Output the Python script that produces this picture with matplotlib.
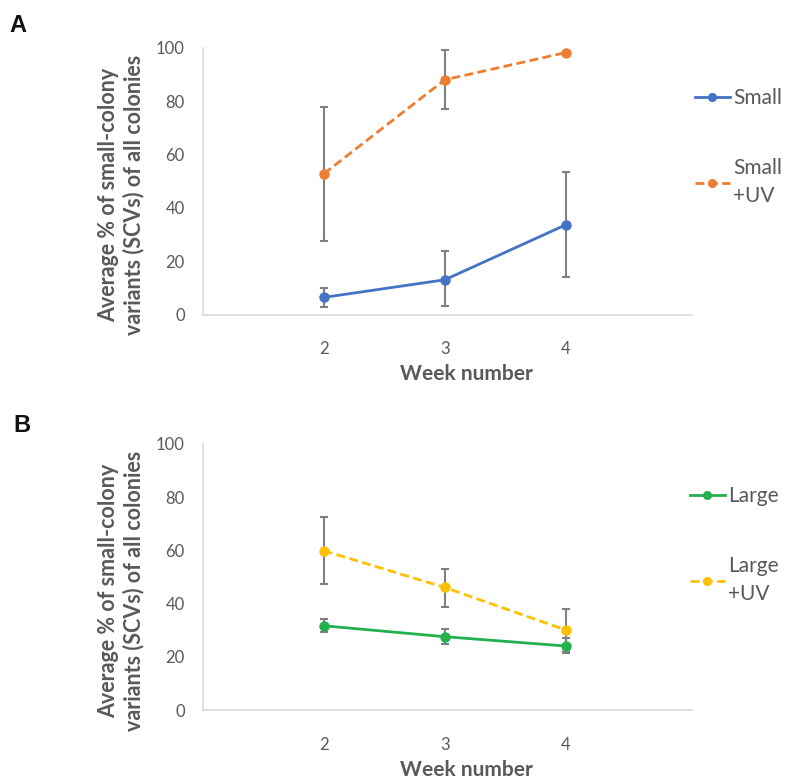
import matplotlib
matplotlib.use('Agg')
import matplotlib.pyplot as plt

#Data
weeks = [2, 3, 4]

small_mean = [6.5, 13.1, 33.7]
small_lo = [3.0, 3.1, 14.0]
small_hi = [10.2, 23.7, 53.4]

small_uv_mean = [52.8, 88.0, 98.2]
small_uv_lo = [27.8, 77.0, 98.2]
small_uv_hi = [78.0, 99.3, 98.2]

large_mean = [31.7, 27.6, 24.1]
large_lo = [29.4, 25.0, 21.5]
large_hi = [34.2, 30.5, 27.0]

large_uv_mean = [59.9, 46.1, 30.1]
large_uv_lo = [47.3, 38.8, 22.0]
large_uv_hi = [72.4, 52.9, 38.0]

y_ticks = [0, 20, 40, 60, 80, 100]
x_ticks = [2, 3, 4]

ylabel = "Average % of small-colony\nvariants (SCVs) of all colonies"
xlabel = "Week number"

plt.rcParams['font.family'] = ['Lato', 'DejaVu Sans']

text_col = '#595959'
err_col = '#808080'
spine_col = '#d9d9d9'


def draw_series(ax, mean, lo, hi, color, style, label):
    '''
    Plot one series with asymmetric error bars
    '''
    yerr = [[m - l for m, l in zip(mean, lo)], [h - m for m, h in zip(mean, hi)]]
    ax.errorbar(weeks, mean, yerr=yerr, fmt='none', ecolor=err_col,
                elinewidth=1.5, capsize=3, capthick=1.5, zorder=2)
    line, = ax.plot(weeks, mean, linestyle=style, color=color, linewidth=2,
                    marker='o', markersize=6.5, label=label, zorder=3)
    if style == '--':
        line.set_dashes((3.2, 1.6))
    return line


def style_axes(ax):
    ax.set_xlim(1, 5.04)
    ax.set_ylim(0, 100)
    ax.set_xticks(x_ticks)
    ax.set_yticks(y_ticks)
    ax.tick_params(length=0, labelsize=12, colors=text_col)
    ax.tick_params(axis='x', pad=19)
    ax.tick_params(axis='y', pad=13)
    for s in ['top', 'right']:
        ax.spines[s].set_visible(False)
    for s in ['left', 'bottom']:
        ax.spines[s].set_color(spine_col)
        ax.spines[s].set_linewidth(1.2)
    ax.set_ylabel(ylabel, fontsize=15.5, fontweight='bold', color=text_col,
                  labelpad=8, linespacing=1.2, y=0.45)
    ax.set_xlabel(xlabel, fontsize=15, fontweight='bold', color=text_col,
                  labelpad=5, x=0.54)


def add_legend(ax, handles, x, y):
    leg = ax.legend(handles=handles, loc='upper left', bbox_to_anchor=(x, y),
                    frameon=False, handlelength=1.7, handletextpad=0.15,
                    labelspacing=2.4, borderpad=0, borderaxespad=0,
                    fontsize=15, labelcolor=text_col, markerscale=0.85)
    for t in leg.get_texts():
        t.set_linespacing(1.5)
    return leg


fig = plt.figure(figsize=(7.86, 7.83), dpi=100)
axA = fig.add_axes([0.258, 0.598, 0.622, 0.341])
axB = fig.add_axes([0.258, 0.093, 0.622, 0.340])

#Panel A
l1 = draw_series(axA, small_mean, small_lo, small_hi, '#4472C4', '-', 'Small')
l2 = draw_series(axA, small_uv_mean, small_uv_lo, small_uv_hi, '#ED7D31', '--', 'Small\n+UV')
style_axes(axA)
add_legend(axA, [l1, l2], 1.006, 0.85)

#Panel B
l3 = draw_series(axB, large_mean, large_lo, large_hi, '#22B14C', '-', 'Large')
l4 = draw_series(axB, large_uv_mean, large_uv_lo, large_uv_hi, '#FFC000', '--', 'Large\n+UV')
style_axes(axB)
add_legend(axB, [l3, l4], 0.996, 0.842)

fig.text(0.012, 0.967, 'A', fontsize=17, fontweight='bold', color='#111111',
         va='center', family='Liberation Sans')
fig.text(0.017, 0.457, 'B', fontsize=17, fontweight='bold', color='#111111',
         va='center', family='Liberation Sans')

fig.savefig('out.png', dpi=100, facecolor='white')
